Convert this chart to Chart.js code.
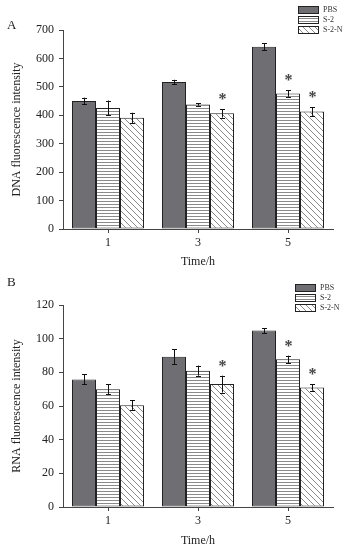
<!DOCTYPE html>
<html>
<head>
<meta charset="utf-8">
<script src="https://cdn.jsdelivr.net/npm/chart.js@4.4.0/dist/chart.umd.min.js"></script>
<style>
  html, body { margin: 0; padding: 0; background: #fff; }
  #wrap { position: relative; width: 349px; height: 551px; }
  .panel { position: absolute; left: 0; width: 349px; }
</style>
</head>
<body>
<div id="wrap">
  <div class="panel" style="top:0;height:275px"><canvas id="chartA"></canvas></div>
  <div class="panel" style="top:275px;height:276px"><canvas id="chartB"></canvas></div>
</div>
<script>
// categories and series
const timeLabels = ['1', '3', '5'];
const seriesNames = ['PBS', 'S-2', 'S-2-N'];

// panel A: DNA fluorescence intensity
const dnaPBS = [450, 517, 641];
const dnaS2 = [426, 438, 477];
const dnaS2N = [391, 407, 413];
const dnaPBSErr = [12, 8, 12];
const dnaS2Err = [26, 4, 12];
const dnaS2NErr = [18, 15, 15];
const dnaPBSStar = [false, false, false];
const dnaS2Star = [false, false, true];
const dnaS2NStar = [false, true, true];

// panel B: RNA fluorescence intensity
const rnaPBS = [75.8, 89.3, 104.8];
const rnaS2 = [70, 81, 87.7];
const rnaS2N = [60.5, 73, 71];
const rnaPBSErr = [3, 4.4, 1.5];
const rnaS2Err = [2.9, 3, 2.2];
const rnaS2NErr = [2.8, 5, 1.9];
const rnaPBSStar = [false, false, false];
const rnaS2Star = [false, false, true];
const rnaS2NStar = [false, true, true];

const SERIF = "'Liberation Serif', 'Times New Roman', serif";

function hatch(kind) {
    const c = document.createElement('canvas');
    const size = kind === 'h' ? 3 : 6;
    c.width = size; c.height = size;
    const g = c.getContext('2d');
    g.fillStyle = '#fff';
    g.fillRect(0, 0, size, size);
    g.strokeStyle = '#8a8a8a';
    g.lineWidth = 1;
    g.beginPath();
    if (kind === 'h') {
        g.moveTo(0, 0.5); g.lineTo(size, 0.5);
    } else {
        g.moveTo(0, 0); g.lineTo(size, size);
        g.moveTo(-1, size - 1); g.lineTo(1, size + 1);
        g.moveTo(size - 1, -1); g.lineTo(size + 1, 1);
    }
    g.stroke();
    return g.createPattern(c, 'repeat');
}

function makeChart(id, opts) {
    const ctx = document.getElementById(id).getContext('2d');
    const fills = ['#6f6f73', hatch('h'), hatch('d')];

    const extras = {
        id: 'extras',
        afterDatasetsDraw(chart) {
            const c = chart.ctx;
            const y = chart.scales.y;
            c.save();
            chart.data.datasets.forEach((ds, di) => {
                const meta = chart.getDatasetMeta(di);
                meta.data.forEach((bar, i) => {
                    const v = ds.data[i];
                    const e = opts.errors[di][i];
                    const yTop = y.getPixelForValue(v + e);
                    const yBot = y.getPixelForValue(v - e);
                    c.strokeStyle = '#111';
                    c.lineWidth = 1;
                    c.beginPath();
                    c.moveTo(Math.round(bar.x) + 0.5, yTop);
                    c.lineTo(Math.round(bar.x) + 0.5, yBot);
                    c.moveTo(bar.x - 2, Math.round(yTop) + 0.5);
                    c.lineTo(bar.x + 3, Math.round(yTop) + 0.5);
                    c.moveTo(bar.x - 2, Math.round(yBot) + 0.5);
                    c.lineTo(bar.x + 3, Math.round(yBot) + 0.5);
                    c.stroke();
                    if (opts.stars[di][i]) {
                        c.fillStyle = '#444';
                        c.font = 'bold 16px ' + SERIF;
                        c.textAlign = 'center';
                        c.textBaseline = 'middle';
                        c.fillText('*', bar.x + 0.5, yTop - 9);
                    }
                });
            });
            // legend
            chart.data.datasets.forEach((ds, di) => {
                const ly = opts.legendTop + di * 10;
                c.fillStyle = fills[di];
                c.fillRect(opts.legendLeft, ly, 21, 7);
                c.strokeStyle = '#222';
                c.strokeRect(opts.legendLeft + 0.5, ly + 0.5, 20, 7);
                c.fillStyle = '#333';
                c.font = '8px ' + SERIF;
                c.textAlign = 'left';
                c.textBaseline = 'middle';
                c.fillText(ds.label, opts.legendLeft + 25, ly + 4);
            });
            // panel letter
            c.fillStyle = '#222';
            c.font = '13px ' + SERIF;
            c.textAlign = 'left';
            c.textBaseline = 'middle';
            c.fillText(opts.letter, 7, opts.letterY);
            c.restore();
        }
    };

    return new Chart(ctx, {
        type: 'bar',
        data: {
            labels: timeLabels,
            datasets: seriesNames.map((name, di) => ({
                label: name,
                data: opts.values[di],
                backgroundColor: fills[di],
                borderColor: '#222',
                borderWidth: 1,
                borderSkipped: false
            }))
        },
        options: {
            responsive: true,
            maintainAspectRatio: false,
            animation: false,
            categoryPercentage: 0.8,
            barPercentage: 1.0,
            layout: { padding: { left: 0, top: opts.padTop, right: 16, bottom: 0 } },
            plugins: {
                legend: { display: false },
                tooltip: { enabled: false }
            },
            scales: {
                x: {
                    afterFit: s => { s.height = opts.xHeight; },
                    grid: { display: true, drawOnChartArea: false, offset: false, tickLength: 4, color: '#444' },
                    border: { color: '#444', width: 1 },
                    ticks: { color: '#222', padding: 3, font: { family: SERIF, size: 12 } },
                    title: {
                        display: true, text: 'Time/h', color: '#222',
                        font: { family: SERIF, size: 12 },
                        padding: { top: 0, bottom: opts.xTitlePad }
                    }
                },
                y: {
                    min: 0,
                    max: opts.yMax,
                    afterFit: s => { s.width = 63; },
                    grid: { display: true, drawOnChartArea: false, tickLength: 4, color: '#444' },
                    border: { color: '#444', width: 1 },
                    ticks: {
                        stepSize: opts.minorStep,
                        color: '#222',
                        padding: 5,
                        font: { family: SERIF, size: 12 },
                        callback: v => (v % opts.majorStep === 0 ? v : '')
                    },
                    title: {
                        display: true, text: opts.yTitle, color: '#222',
                        font: { family: SERIF, size: 12 },
                        padding: { top: 10, bottom: 0 }
                    }
                }
            }
        },
        plugins: [extras]
    });
}

document.addEventListener('DOMContentLoaded', function () {
    makeChart('chartA', {
        values: [dnaPBS, dnaS2, dnaS2N],
        errors: [dnaPBSErr, dnaS2Err, dnaS2NErr],
        stars: [dnaPBSStar, dnaS2Star, dnaS2NStar],
        yMax: 700, majorStep: 100, minorStep: 50,
        yTitle: 'DNA fluorescence intensity',
        padTop: 30, xHeight: 46, xTitlePad: 6,
        legendLeft: 298, legendTop: 6,
        letter: 'A', letterY: 26
    });
    makeChart('chartB', {
        values: [rnaPBS, rnaS2, rnaS2N],
        errors: [rnaPBSErr, rnaS2Err, rnaS2NErr],
        stars: [rnaPBSStar, rnaS2Star, rnaS2NStar],
        yMax: 120, majorStep: 20, minorStep: 10,
        yTitle: 'RNA fluorescence intensity',
        padTop: 30, xHeight: 44, xTitlePad: 3,
        legendLeft: 295, legendTop: 9,
        letter: 'B', letterY: 8
    });
});
</script>
</body>
</html>
